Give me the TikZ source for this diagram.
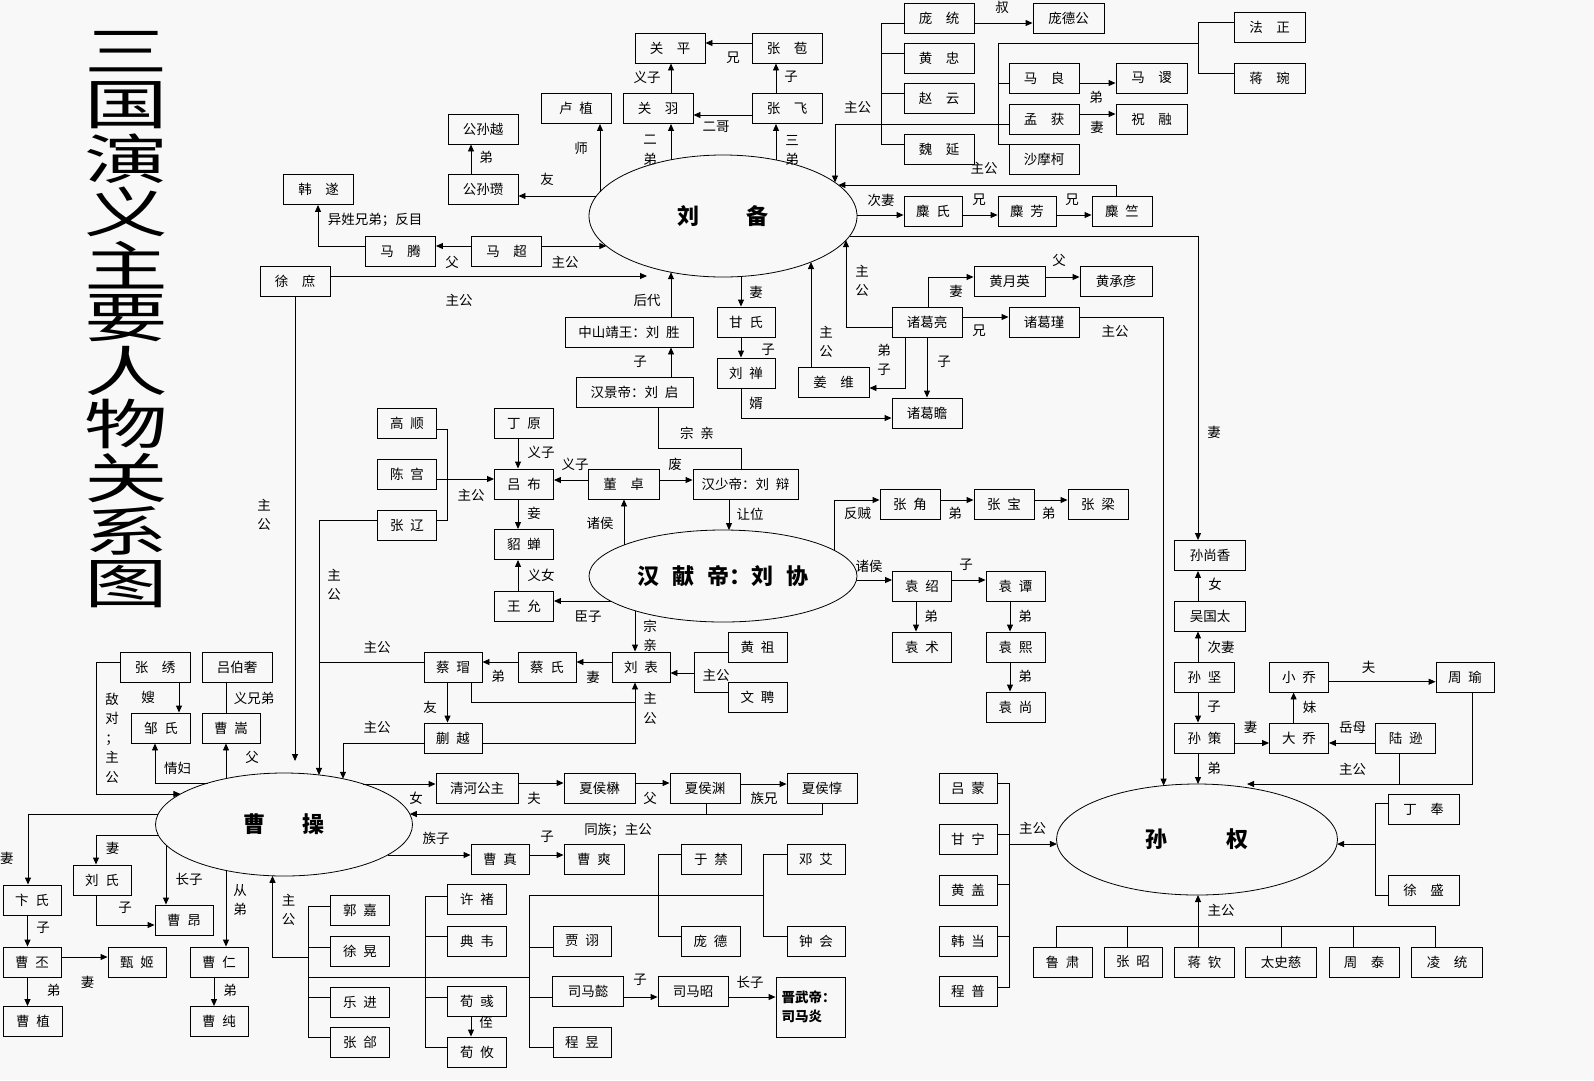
\documentclass[tikz,border=0pt]{standalone}
\usepackage{fontspec}
\usepackage{graphicx}
\setmainfont{Noto Sans CJK SC}
\usetikzlibrary{arrows.meta,shapes.geometric}
\newcommand\fs{\fontsize{13.5}{16}\selectfont}
\newcommand\fv{\fontsize{13.5}{19.5}\selectfont}
\definecolor{bgc}{RGB}{248,248,248}
\tikzset{
 bw/.style={draw, line width=0.9pt, inner sep=0pt, minimum height=30, minimum width=#1, font=\fs},
 lab/.style={inner sep=0pt, font=\fs},
 vlab/.style={inner sep=0pt, font=\fv, align=center},
 ln/.style={draw, line width=0.9pt},
 ar/.style={ln, -{Triangle[length=7pt,width=6pt]}},
 ell/.style={draw, ellipse, line width=0.8pt, inner sep=0pt, font=\fontsize{22}{22}\selectfont\bfseries},
 ttl/.style={inner sep=0pt, font=\fontsize{54}{54}\selectfont},
 declare function={
  lbt(\x)=216-61*sqrt(1-((\x-723)/134)*((\x-723)/134));
  lbb(\x)=216+61*sqrt(1-((\x-723)/134)*((\x-723)/134));
  lbl(\x)=723-134*sqrt(1-((\x-216)/61)*((\x-216)/61));
  lbr(\x)=723+134*sqrt(1-((\x-216)/61)*((\x-216)/61));
  xdt(\x)=576-46*sqrt(1-((\x-723)/134)*((\x-723)/134));
  xdb(\x)=576+46*sqrt(1-((\x-723)/134)*((\x-723)/134));
  xdl(\x)=723-134*sqrt(1-((\x-576)/46)*((\x-576)/46));
  xdr(\x)=723+134*sqrt(1-((\x-576)/46)*((\x-576)/46));
  cct(\x)=824.5-51.5*sqrt(1-((\x-284)/128.5)*((\x-284)/128.5));
  ccb(\x)=824.5+51.5*sqrt(1-((\x-284)/128.5)*((\x-284)/128.5));
  ccl(\x)=284-128.5*sqrt(1-((\x-824.5)/51.5)*((\x-824.5)/51.5));
  ccr(\x)=284+128.5*sqrt(1-((\x-824.5)/51.5)*((\x-824.5)/51.5));
  sqt(\x)=839.5-55.5*sqrt(1-((\x-1197)/140.5)*((\x-1197)/140.5));
  sqb(\x)=839.5+55.5*sqrt(1-((\x-1197)/140.5)*((\x-1197)/140.5));
  sql(\x)=1197-140.5*sqrt(1-((\x-839.5)/55.5)*((\x-839.5)/55.5));
  sqr(\x)=1197+140.5*sqrt(1-((\x-839.5)/55.5)*((\x-839.5)/55.5));
 }
}
\begin{document}
\begin{tikzpicture}[x=1pt,y=-1pt]
\fill[bgc] (0,0) rectangle (1594,1080);
\useasboundingbox (0,0) rectangle (1594,1080);

% title
\foreach \c [count=\i] in {三,国,演,义,主,要,人,物,关,系,图}
  \node[ttl] (t\i) at (126,{52+53.2*(\i-1)}) {\scalebox{1.55}[1]{\c}};

% ellipses
\node[ell, minimum width=268, minimum height=122] (LB) at (723,216) {刘\hspace{2.1em}备};
\node[ell, minimum width=268, minimum height=92] (XD) at (723,576) {汉\hspace{.6em}献\hspace{.6em}帝：刘\hspace{.6em}协};
\node[ell, minimum width=257, minimum height=103] (CC) at (284,824.5) {曹\hspace{1.65em}操};
\node[ell, minimum width=281, minimum height=111] (SQ) at (1197,839.5) {孙\hspace{2.7em}权};

% Shu boxes
\node[bw=70] (gp) at (670,48) {关\quad 平};
\node[bw=70] (zb) at (787,48) {张\quad 苞};
\node[bw=70] (lz) at (576,108.5) {卢\enspace 植};
\node[bw=70] (gy) at (658,108.5) {关\quad 羽};
\node[bw=70] (zf) at (787,108.5) {张\quad 飞};
\node[bw=70] (gsy) at (483,129) {公孙越};
\node[bw=70] (gsz) at (483,189.5) {公孙瓒};
\node[bw=70] (hs) at (318.5,189.5) {韩\quad 遂};
\node[bw=70] (mt) at (400.5,251) {马\quad 腾};
\node[bw=70] (mc) at (506.5,251) {马\quad 超};
\node[bw=70] (xs) at (295,281) {徐\quad 庶};
\node[bw=70] (pt) at (939,18) {庞\quad 统};
\node[bw=71] (pdg) at (1068.5,18) {庞德公};
\node[bw=70] (hz) at (939,58.5) {黄\quad 忠};
\node[bw=70] (zy) at (939,98.5) {赵\quad 云};
\node[bw=70] (wy) at (939,149) {魏\quad 延};
\node[bw=70] (ml) at (1044,78) {马\quad 良};
\node[bw=70] (mg) at (1044,119) {孟\quad 获};
\node[bw=70] (smk) at (1044,159) {沙摩柯};
\node[bw=71] (fz) at (1269.5,27) {法\quad 正};
\node[bw=71] (jwan) at (1269.5,78) {蒋\quad 琬};
\node[bw=71] (msu) at (1151.5,78) {马\quad 谡};
\node[bw=71] (zr) at (1151.5,119) {祝\quad 融};
\node[bw=58] (ms) at (933,211) {麋\enspace 氏};
\node[bw=58] (mf) at (1027,211) {麋\enspace 芳};
\node[bw=60] (mz) at (1122,211) {麋\enspace 竺};
\node[bw=128] (zs) at (629,332) {中山靖王：刘\enspace 胜};
\node[bw=58] (gs) at (746,322) {甘\enspace 氏};
\node[bw=58] (ls) at (746,373) {刘\enspace 禅};
\node[bw=71] (jw) at (833.5,382.5) {姜\quad 维};
\node[bw=70] (zgl) at (927,322) {诸葛亮};
\node[bw=71] (hyy) at (1009.5,281.5) {黄月英};
\node[bw=72] (hcy) at (1116,281.5) {黄承彦};
\node[bw=70] (zgj) at (1044,322) {诸葛瑾};
\node[bw=70] (zgz) at (927,413) {诸葛瞻};
\node[bw=117] (jd) at (634.5,392.5) {汉景帝：刘\enspace 启};

% Han / Lü Bu boxes
\node[bw=59] (gsh) at (407,423.5) {高\enspace 顺};
\node[bw=59] (cg) at (407,474) {陈\enspace 宫};
\node[bw=59] (zl) at (407,525.5) {张\enspace 辽};
\node[bw=59] (dy) at (524,423.5) {丁\enspace 原};
\node[bw=59] (lbu) at (524,484) {吕\enspace 布};
\node[bw=59] (dc) at (524,544.5) {貂\enspace 蝉};
\node[bw=59] (wyun) at (524,606.5) {王\enspace 允};
\node[bw=71] (dz) at (623.5,484) {董\quad 卓};
\node[bw=105] (sd) at (745.5,484) {汉少帝：刘\enspace 辩};
\node[bw=58] (lbiao) at (641,667) {刘\enspace 表};
\node[bw=59] (hzu) at (757.5,647) {黄\enspace 祖};
\node[bw=59] (wp) at (757.5,697.5) {文\enspace 聘};
\node[bw=58] (cm) at (453,667) {蔡\enspace 瑁};
\node[bw=58] (cai) at (547,667) {蔡\enspace 氏};
\node[bw=58] (ky) at (453,738) {蒯\enspace 越};
\node[bw=60] (zj) at (910,504.5) {张\enspace 角};
\node[bw=60] (zbao) at (1004,504.5) {张\enspace 宝};
\node[bw=60] (zlg) at (1098,504.5) {张\enspace 梁};
\node[bw=59] (ys) at (922,586) {袁\enspace 绍};
\node[bw=59] (yt) at (1015.5,586) {袁\enspace 谭};
\node[bw=59] (ysh) at (922,647) {袁\enspace 术};
\node[bw=59] (yx) at (1015.5,647) {袁\enspace 熙};
\node[bw=59] (ysg) at (1015.5,707) {袁\enspace 尚};

% Cao boxes
\node[bw=70] (zxiu) at (155,667) {张\quad 绣};
\node[bw=70] (lbs) at (237,667) {吕伯奢};
\node[bw=59] (zous) at (161,728) {邹\enspace 氏};
\node[bw=58] (csong) at (231,728) {曹\enspace 嵩};
\node[bw=82] (qh) at (477,788) {清河公主};
\node[bw=71] (xhm) at (599.5,788) {夏侯楙};
\node[bw=70] (xhy) at (705,788) {夏侯渊};
\node[bw=70] (xhd) at (822,788) {夏侯惇};
\node[bw=58] (czh) at (500,859.5) {曹\enspace 真};
\node[bw=60] (csh) at (594,859.5) {曹\enspace 爽};
\node[bw=58] (bs) at (32,900) {卞\enspace 氏};
\node[bw=58] (lsh) at (102,880) {刘\enspace 氏};
\node[bw=58] (ca) at (184,920) {曹\enspace 昂};
\node[bw=58] (cr) at (219,962) {曹\enspace 仁};
\node[bw=58] (cch) at (219,1021.5) {曹\enspace 纯};
\node[bw=58] (cp) at (32,962) {曹\enspace 丕};
\node[bw=58] (zji) at (137,962) {甄\enspace 姬};
\node[bw=59] (czhi) at (33,1021.5) {曹\enspace 植};
\node[bw=59] (gj) at (360,910.5) {郭\enspace 嘉};
\node[bw=59] (xh) at (360,951) {徐\enspace 晃};
\node[bw=59] (yj) at (360,1002) {乐\enspace 进};
\node[bw=59] (zhe) at (360,1042) {张\enspace 郃};
\node[bw=59] (xc) at (477,899.5) {许\enspace 褚};
\node[bw=59] (dw) at (477,941) {典\enspace 韦};
\node[bw=59] (xy) at (477,1001.5) {荀\enspace 彧};
\node[bw=59] (xyo) at (477,1052) {荀\enspace 攸};
\node[bw=58] (jx) at (582,941) {贾\enspace 诩};
\node[bw=71] (smy) at (588,991.5) {司马懿};
\node[bw=58] (cy) at (582,1042) {程\enspace 昱};
\node[bw=70] (smz) at (693,991.5) {司马昭};
\node[bw=69, minimum height=60, align=left, text width=58, font=\fontsize{13.5}{19}\selectfont\bfseries] (jwd) at (810.5,1007) {晋武帝：\\司马炎};
\node[bw=60] (yjn) at (711,859.5) {于\enspace 禁};
\node[bw=59] (pd) at (710.5,941) {庞\enspace 德};
\node[bw=58] (da) at (816,859.5) {邓\enspace 艾};
\node[bw=58] (zhh) at (816,941) {钟\enspace 会};

% Wu boxes
\node[bw=71] (ssx) at (1210,555.5) {孙尚香};
\node[bw=71] (wgt) at (1210,616) {吴国太};
\node[bw=60] (sj) at (1204.6,677) {孙\enspace 坚};
\node[bw=60] (sce) at (1204.6,738) {孙\enspace 策};
\node[bw=59] (xq) at (1299,677) {小\enspace 乔};
\node[bw=59] (dq) at (1299,738) {大\enspace 乔};
\node[bw=60] (lx) at (1405.7,738) {陆\enspace 逊};
\node[bw=58] (zyu) at (1465,677) {周\enspace 瑜};
\node[bw=71] (df) at (1423.5,809) {丁\quad 奉};
\node[bw=71] (xsh) at (1423.5,890.5) {徐\quad 盛};
\node[bw=58] (lm) at (968,788) {吕\enspace 蒙};
\node[bw=58] (gn) at (968,839) {甘\enspace 宁};
\node[bw=58] (hg) at (968,890.5) {黄\enspace 盖};
\node[bw=58] (hd) at (968,941) {韩\enspace 当};
\node[bw=58] (cpu) at (968,991.5) {程\enspace 普};
\node[bw=59] (lsu) at (1062.5,962) {鲁\enspace 肃};
\node[bw=58] (zz) at (1133,962) {张\enspace 昭};
\node[bw=60] (jq) at (1204.6,962) {蒋\enspace 钦};
\node[bw=71] (tsc) at (1281,962) {太史慈};
\node[bw=70] (zt) at (1364,962) {周\quad 泰};
\node[bw=71] (lt) at (1447,962) {凌\quad 统};

% ---------- connectors: Shu ----------
\draw[ar] (zb.west |- 0,43) -- (gp.east |- 0,43);
\draw[ar] (gy.north -| 671,0) -- (gp.south -| 671,0);
\draw[ar] (zf.north -| 776,0) -- (zb.south -| 776,0);
\draw[ar] (zf.west |- 0,115) -- (gy.east |- 0,115);
\draw[ar] (600,{lbt(600)}) -- (lz.south -| 600,0);
\draw[ar] (671,{lbt(671)}) -- (gy.south -| 671,0);
\draw[ar] (776,{lbt(776)}) -- (zf.south -| 776,0);
\draw[ar] ({lbl(196)},196) -- (gsz.east |- 0,196);
\draw[ar] (gsz.north -| 471,0) -- (gsy.south -| 471,0);
\draw[ar] (mc.west |- 0,246) -- (mt.east |- 0,246);
\draw[ar] (mt.west |- 0,246) -- (318,246) -- (hs.south -| 318,0);
\draw[ar] (mc.east |- 0,246) -- ({lbl(246)},246);
\coordinate (xsE) at (647,276);
\draw[ar] (xs.east |- 0,276) -- (xsE);
\coordinate (xsS) at (295,761);
\draw[ar] (xs.south) -- (xsS);
\draw[ar] (zs.north -| 671,0) -- (671,{lbb(671)});
\draw[ar] (jd.north -| 671,0) -- (zs.south -| 671,0);
\draw[ar] (741,{lbb(741)}) -- (gs.north -| 741,0);
\draw[ar] (gs.south -| 741,0) -- (ls.north -| 741,0);
\draw[ar] (ls.south -| 741,0) -- (741,418) -- (zgz.west |- 0,418);
\draw[ar] (jw.north -| 811,0) -- (811,{lbb(811)});
\draw[ar] (zgl.west |- 0,327) -- (846,327) -- (846,{lbb(846)});
\draw[ar] (zgl.north -| 928,0) -- (928,277) -- (hyy.west |- 0,277);
\draw[ar] (hyy.east |- 0,277) -- (hcy.west |- 0,277);
\draw[ar] (zgl.east |- 0,317) -- (zgj.west |- 0,317);
\draw[ar] (zgl.south -| 905,0) -- (905,388) -- (jw.east |- 0,388);
\draw[ar] (zgl.south -| 927,0) -- (zgz.north -| 927,0);
\draw[ar] (zgj.east |- 0,317) -- (1163.6,317) -- (1163.6,{sqt(1163.6)});
\draw[ar] ({lbr(236)},236) -- (1198,236) -- (ssx.north -| 1198,0);
\draw[ar] (mz.north -| 1116,0) -- (1116,185) -- ({lbr(185)},185);
\draw[ar] ({lbr(215)},215) -- (ms.west |- 0,215);
\draw[ar] (ms.east |- 0,215) -- (mf.west |- 0,215);
\draw[ar] (mf.east |- 0,215) -- (mz.west |- 0,215);
\draw[ar] (pt.east |- 0,23) -- (pdg.west |- 0,23);
\draw[ln] (pt.west |- 0,23) -- (881,23) -- (881,144) -- (wy.west |- 0,144);
\draw[ln] (881,53) -- (hz.west |- 0,53);
\draw[ln] (881,93) -- (zy.west |- 0,93);
\draw[ln] (mg.west |- 0,124) -- (835,124);
\draw[ar] (835,124) -- (835,{lbt(835)});
\draw[ln] (ml.west |- 0,83) -- (998,83);
\draw[ln] (smk.west |- 0,144) -- (998,144) -- (998,43) -- (1198,43);
\draw[ln] (fz.west |- 0,22) -- (1198,22) -- (1198,73) -- (jwan.west |- 0,73);
\draw[ar] (ml.east |- 0,83) -- (msu.west |- 0,83);
\draw[ar] (mg.east |- 0,114) -- (zr.west |- 0,114);

% ---------- connectors: Han ----------
\draw[ln] (gsh.east |- 0,429) -- (447.5,429) -- (447.5,520) -- (zl.east |- 0,520);
\draw[ar] (cg.east |- 0,479) -- (lbu.west |- 0,479);
\draw[ar] (dy.south -| 518,0) -- (lbu.north -| 518,0);
\draw[ar] (lbu.south -| 518,0) -- (dc.north -| 518,0);
\draw[ar] (wyun.north -| 518,0) -- (dc.south -| 518,0);
\draw[ar] (dz.west |- 0,480) -- (lbu.east |- 0,480);
\draw[ar] (dz.east |- 0,480) -- (sd.west |- 0,480);
\draw[ln] (jd.south -| 658.6,0) -- (658.6,448) -- (741,448) -- (sd.north -| 741,0);
\draw[ar] (sd.south -| 729,0) -- (729,{xdt(729)});
\draw[ar] (624,{xdt(624)}) -- (dz.south -| 624,0);
\draw[ar] ({xdl(601)},601) -- (wyun.east |- 0,601);
\draw[ar] (635,{xdb(635)}) -- (lbiao.north -| 635,0);
\draw[ar] (lbiao.west |- 0,662) -- (cai.east |- 0,662);
\draw[ar] (cai.west |- 0,662) -- (cm.east |- 0,662);
\draw[ln] (hzu.west |- 0,652) -- (694,652) -- (694,692) -- (wp.west |- 0,692);
\draw[ar] (694,673) -- (lbiao.east |- 0,673);
\draw[ar] (cm.south -| 447.5,0) -- (ky.north -| 447.5,0);
\draw[ln] (cm.south -| 471,0) -- (471,702) -- (635,702);
\draw[ar] (ky.east |- 0,743) -- (635,743) -- (lbiao.south -| 635,0);
\draw[ln] (cm.west |- 0,662) -- (319,662);
\draw[ar] (zl.west |- 0,520) -- (319,520) -- (319,{cct(319)});
\draw[ar] (ky.west |- 0,743) -- (343,743) -- (343,{cct(343)});
\draw[ar] (834,{xdt(834)}) -- (834,500) -- (zj.west |- 0,500);
\draw[ar] (zj.east |- 0,500) -- (zbao.west |- 0,500);
\draw[ar] (zbao.east |- 0,500) -- (zlg.west |- 0,500);
\draw[ar] ({xdr(580)},580) -- (ys.west |- 0,580);
\draw[ar] (ys.east |- 0,580) -- (yt.west |- 0,580);
\draw[ar] (ys.south -| 916,0) -- (ysh.north -| 916,0);
\draw[ar] (yt.south -| 1010,0) -- (yx.north -| 1010,0);
\draw[ar] (yx.south -| 1010,0) -- (ysg.north -| 1010,0);

% ---------- connectors: Cao ----------
\draw[ar] (zxiu.south -| 179,0) -- (zous.north -| 179,0);
\draw[ln] (lbs.south -| 226,0) -- (csong.north -| 226,0);
\draw[ar] (zxiu.west |- 0,662) -- (96,662) -- (96,794) -- ({ccl(794)},794);
\draw[ar] ({ccl(783)},783) -- (155,783) -- (zous.south -| 155,0);
\draw[ar] (226,{cct(226)}) -- (csong.south -| 226,0);
\draw[ar] ({ccr(784)},784) -- (qh.west |- 0,784);
\draw[ar] (qh.east |- 0,783) -- (xhm.west |- 0,783);
\draw[ar] (xhm.east |- 0,783) -- (xhy.west |- 0,783);
\draw[ar] (xhy.east |- 0,784) -- (xhd.west |- 0,784);
\draw[ln] (xhy.south -| 706,0) -- (706,814);
\draw[ar] (xhd.south -| 822.5,0) -- (822.5,814) -- ({ccr(814)},814);
\draw[ar] ({ccr(855)},855) -- (czh.west |- 0,855);
\draw[ar] (czh.east |- 0,855) -- (csh.west |- 0,855);
\draw[ar] ({ccl(814)},814) -- (28,814) -- (bs.north -| 28,0);
\draw[ar] ({ccl(835)},835) -- (96,835) -- (lsh.north -| 96,0);
\draw[ar] (lsh.south -| 96,0) -- (96,925) -- (ca.west |- 0,925);
\draw[ar] (166,{ccb(166)}) -- (ca.north -| 166,0);
\draw[ar] (226,{ccb(226)}) -- (cr.north -| 226,0);
\draw[ar] (cr.south -| 214,0) -- (cch.north -| 214,0);
\draw[ar] (bs.south -| 27.5,0) -- (cp.north -| 27.5,0);
\draw[ar] (cp.south -| 27.5,0) -- (czhi.north -| 27.5,0);
\draw[ar] (cp.east |- 0,957) -- (zji.west |- 0,957);
\draw[ln] (gj.west |- 0,906) -- (308,906) -- (308,1037) -- (zhe.west |- 0,1037);
\draw[ln] (308,947) -- (xh.west |- 0,947);
\draw[ln] (308,997) -- (yj.west |- 0,997);
\draw[ar] (308,957) -- (272.5,957) -- (272.5,{ccb(272.5)});
\draw[ln] (308,977) -- (529,977);
\draw[ln] (xc.west |- 0,896) -- (425,896) -- (425,1047) -- (xyo.west |- 0,1047);
\draw[ln] (425,936) -- (dw.west |- 0,936);
\draw[ln] (425,997) -- (xy.west |- 0,997);
\draw[ln] (529,895) -- (529,1047) -- (cy.west |- 0,1047);
\draw[ln] (529,947) -- (jx.west |- 0,947);
\draw[ln] (529,997) -- (smy.west |- 0,997);
\draw[ln] (529,895) -- (763,895);
\draw[ln] (yjn.west |- 0,854) -- (658.6,854) -- (658.6,936) -- (pd.west |- 0,936);
\draw[ln] (da.west |- 0,854) -- (763,854) -- (763,936) -- (zhh.west |- 0,936);
\draw[ar] (xy.south -| 471,0) -- (xyo.north -| 471,0);
\draw[ar] (smy.east |- 0,997) -- (smz.west |- 0,997);
\draw[ar] (smz.east |- 0,997) -- (jwd.west |- 0,997);

% ---------- connectors: Wu ----------
\draw[ar] (wgt.north -| 1198,0) -- (ssx.south -| 1198,0);
\draw[ar] (sj.north -| 1198,0) -- (wgt.south -| 1198,0);
\draw[ar] (sj.south -| 1198,0) -- (sce.north -| 1198,0);
\draw[ar] (sce.south -| 1198,0) -- (1198,{sqt(1198)});
\draw[ar] (sce.east |- 0,743) -- (dq.west |- 0,743);
\draw[ar] (lx.west |- 0,743) -- (dq.east |- 0,743);
\draw[ar] (dq.north -| 1293.6,0) -- (xq.south -| 1293.6,0);
\draw[ar] (xq.east |- 0,681.7) -- (zyu.west |- 0,681.7);
\draw[ln] (lx.south -| 1399.6,0) -- (1399.6,784);
\coordinate (sqT) at (1247,784);
\draw[ar] (zyu.south -| 1472,0) -- (1472,784) -- (sqT);
\draw[ln] (lm.east |- 0,783) -- (1009,783) -- (1009,987) -- (cpu.east |- 0,987);
\draw[ln] (1009,834) -- (gn.east |- 0,834);
\draw[ln] (1009,884) -- (hg.east |- 0,884);
\draw[ln] (1009,936) -- (hd.east |- 0,936);
\draw[ar] (1009,844) -- ({sql(844)},844);
\draw[ln] (df.west |- 0,803) -- (1375.7,803) -- (1375.7,895) -- (xsh.west |- 0,895);
\draw[ar] (1375.7,844) -- ({sqr(844)},844);
\draw[ln] (lsu.north -| 1056,0) -- (1056,926) -- (1435.7,926) -- (lt.north -| 1435.7,0);
\draw[ln] (zz.north -| 1127.5,0) -- (1127.5,926);
\draw[ln] (tsc.north -| 1281.8,0) -- (1281.8,926);
\draw[ln] (zt.north -| 1353.6,0) -- (1353.6,926);
\draw[ar] (jq.north -| 1198,0) -- (1198,{sqb(1198)});

% ---------- labels ----------
\node[lab] (a1) at (1002,7) {叔};
\node[lab] (a2) at (733,58) {兄};
\node[lab] (a3) at (647,77) {义子};
\node[lab] (a4) at (791,77) {子};
\node[lab] (a5) at (716,127) {二哥};
\node[lab] (a6) at (581,148) {师};
\node[vlab] (a7) at (650,150.5) {二\\弟};
\node[vlab] (a8) at (792,150.5) {三\\弟};
\node[lab] (a9) at (857.5,107) {主公};
\node[lab] (a10) at (486,157) {弟};
\node[lab] (a11) at (547,179) {友};
\node[lab] (a12) at (375,220) {异姓兄弟；反目};
\node[lab] (a13) at (452,262) {父};
\node[lab] (a14) at (565,262) {主公};
\node[lab] (a15) at (459,300) {主公};
\node[lab] (a16) at (647,300) {后代};
\node[lab] (a17) at (640,362) {子};
\node[lab] (a18) at (756,292) {妻};
\node[lab] (a19) at (768,350) {子};
\node[vlab] (a20) at (826,342) {主\\公};
\node[vlab] (a21) at (862,281) {主\\公};
\node[lab] (a22) at (956,291) {妻};
\node[lab] (a23) at (1059,260) {父};
\node[lab] (a24) at (979,331) {兄};
\node[lab] (a25) at (1115,331) {主公};
\node[vlab] (a26) at (884,360) {弟\\子};
\node[lab] (a27) at (944,362) {子};
\node[lab] (a28) at (756,403) {婿};
\node[lab] (a29) at (984,168) {主公};
\node[lab] (a30) at (881,200) {次妻};
\node[lab] (a31) at (979,200) {兄};
\node[lab] (a32) at (1072,200) {兄};
\node[lab] (a33) at (1096,97) {弟};
\node[lab] (a34) at (1097,127) {妻};
\node[lab] (a35) at (1214,432) {妻};
\node[vlab] (a36) at (264,515) {主\\公};
\node[lab] (a37) at (471,495) {主公};
\node[lab] (a38) at (541,452) {义子};
\node[lab] (a39) at (534,513) {妾};
\node[lab] (a40) at (541,575) {义女};
\node[vlab] (a41) at (334,585) {主\\公};
\node[lab] (a42) at (377,647) {主公};
\node[lab] (a43) at (498,676) {弟};
\node[lab] (a44) at (430,707) {友};
\node[lab] (a45) at (377,727) {主公};
\node[vlab] (a46) at (650,708.5) {主\\公};
\node[lab] (a47) at (148,697) {嫂};
\node[lab] (a48) at (254,698) {义兄弟};
\node[vlab] (a49) at (112,738) {敌\\对\\；\\主\\公};
\node[lab] (a50) at (177.5,768) {情妇};
\node[lab] (a51) at (252,757) {父};
\node[lab] (a52) at (575,464) {义子};
\node[lab] (a53) at (675,464) {废};
\node[lab] (a54) at (697,433) {宗\enspace 亲};
\node[lab] (a55) at (750,514) {让位};
\node[lab] (a56) at (600,523) {诸侯};
\node[lab] (a57) at (588,617) {臣子};
\node[vlab] (a58) at (650,636) {宗\\亲};
\node[lab] (a59) at (593,677) {妻};
\node[lab] (a60) at (716,675) {主公};
\node[lab] (a61) at (857.5,513) {反贼};
\node[lab] (a62) at (955,513) {弟};
\node[lab] (a63) at (1048.6,513) {弟};
\node[lab] (a64) at (869,566) {诸侯};
\node[lab] (a65) at (966,565) {子};
\node[lab] (a66) at (931,616) {弟};
\node[lab] (a67) at (1025,616) {弟};
\node[lab] (a68) at (1025,676) {弟};
\node[lab] (a69) at (416,798) {女};
\node[lab] (a70) at (534,798) {夫};
\node[lab] (a71) at (650,798) {父};
\node[lab] (a72) at (764,798) {族兄};
\node[lab] (a73) at (618,830) {同族；主公};
\node[lab] (a74) at (436,838) {族子};
\node[lab] (a75) at (547,837) {子};
\node[lab] (a76) at (7,858) {妻};
\node[lab] (a77) at (112.5,848) {妻};
\node[lab] (a78) at (125,908) {子};
\node[lab] (a79) at (189,879) {长子};
\node[vlab] (a80) at (240,900) {从\\弟};
\node[lab] (a81) at (43,928) {子};
\node[lab] (a82) at (87.5,982) {妻};
\node[lab] (a83) at (53.6,990) {弟};
\node[lab] (a84) at (230,990) {弟};
\node[vlab] (a85) at (288.6,910) {主\\公};
\node[lab] (a86) at (486,1022) {侄};
\node[lab] (a87) at (640,980) {子};
\node[lab] (a88) at (750,982) {长子};
\node[lab] (a89) at (1215,584) {女};
\node[lab] (a90) at (1221,647) {次妻};
\node[lab] (a91) at (1368.6,667) {夫};
\node[lab] (a92) at (1214,707) {子};
\node[lab] (a93) at (1309.6,707) {妹};
\node[lab] (a94) at (1250.7,727) {妻};
\node[lab] (a95) at (1352.5,727) {岳母};
\node[lab] (a96) at (1214,768) {弟};
\node[lab] (a97) at (1352.5,769) {主公};
\node[lab] (a98) at (1032.5,828) {主公};
\node[lab] (a99) at (1221,910) {主公};
\end{tikzpicture}
\end{document}
